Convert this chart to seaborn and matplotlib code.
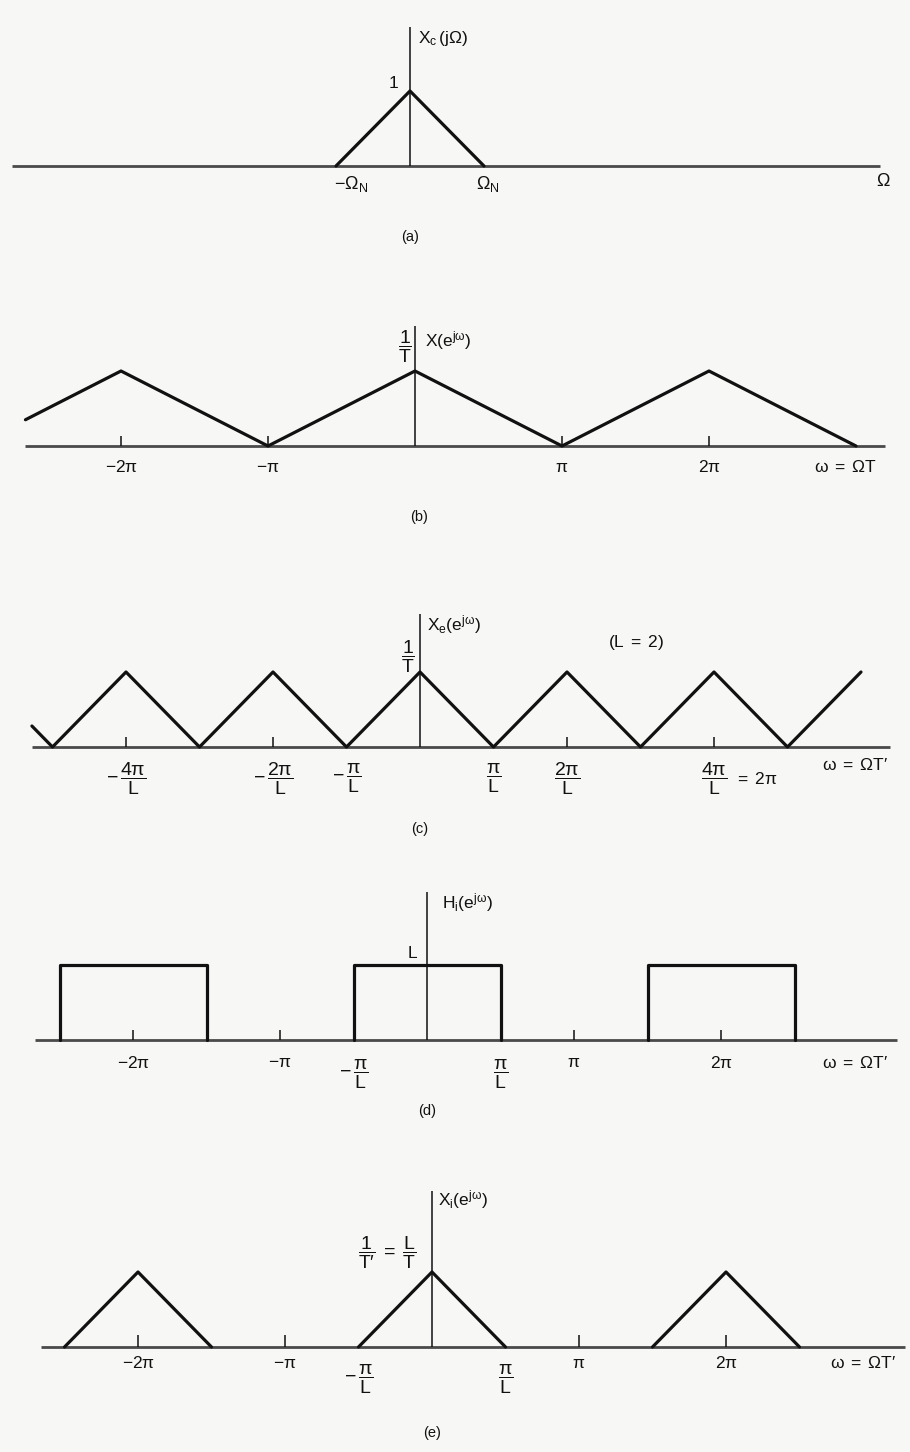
import matplotlib
matplotlib.use("Agg")
import matplotlib.pyplot as plt
import pandas as pd
import seaborn as sns

# ---- data (x in units of pi for b-e, units of Omega_N for a; y: 1 = peak) ----
a_omega = [-1.0, 0.0, 1.0]
a_mag = [0.0, 1.0, 0.0]

b_omega = [-2.65, -2.0, -1.0, 0.0, 1.0, 2.0, 3.0]
b_mag = [0.35, 1.0, 0.0, 1.0, 0.0, 1.0, 0.0]

c_omega = [-2.64, -2.5, -2.0, -1.5, -1.0, -0.5, 0.0, 0.5, 1.0, 1.5, 2.0, 2.5, 3.0]
c_mag = [0.28, 0.0, 1.0, 0.0, 1.0, 0.0, 1.0, 0.0, 1.0, 0.0, 1.0, 0.0, 1.0]

d_omega = [-2.5, -2.5, -1.5, -1.5, -0.5, -0.5, 0.5, 0.5, 1.5, 1.5, 2.5, 2.5]
d_mag = [0, 1, 1, 0, 0, 1, 1, 0, 0, 1, 1, 0]
d_band = [0, 0, 0, 0, 1, 1, 1, 1, 2, 2, 2, 2]

e_omega = [-2.5, -2.0, -1.5, -0.5, 0.0, 0.5, 1.5, 2.0, 2.5]
e_mag = [0, 1, 0, 0, 1, 0, 0, 1, 0]
e_copy = [0, 0, 0, 1, 1, 1, 2, 2, 2]

ticks = [-2.0, -1.0, 1.0, 2.0]
b_labels = [r"$-2\pi$", r"$-\pi$", r"$\pi$", r"$2\pi$"]
c_label_pos = [-2.0, -1.0, -0.5, 0.5, 1.0, 2.0]
c_labels = [r"$-\,\dfrac{4\pi}{L}$", r"$-\,\dfrac{2\pi}{L}$", r"$-\,\dfrac{\pi}{L}$",
            r"$\dfrac{\pi}{L}$", r"$\dfrac{2\pi}{L}$", r"$\dfrac{4\pi}{L}$"]
de_label_pos = [-2.0, -1.0, -0.5, 0.5, 1.0, 2.0]
de_labels = [r"$-2\pi$", r"$-\pi$", r"$-\,\dfrac{\pi}{L}$", r"$\dfrac{\pi}{L}$", r"$\pi$", r"$2\pi$"]

sns.set_theme(style="white")
plt.rcParams["font.family"] = ["Liberation Sans", "DejaVu Sans"]
plt.rcParams["mathtext.fontset"] = "custom"
plt.rcParams["mathtext.rm"] = "Liberation Sans"
plt.rcParams["mathtext.it"] = "Liberation Sans:italic"
plt.rcParams["mathtext.default"] = "regular"

W, H = 910, 1452
PI_PX = 147
UNIT_PX = 75
INK = "#111111"
LW = 2.3
FS = 12.5      # plain labels
FR = 14        # fraction labels

fig = plt.figure(figsize=(W / 100, H / 100), dpi=100)
fig.patch.set_facecolor("#f7f7f5")


def panel(base, center, xpx=PI_PX, above=190, below=110):
    ax = fig.add_axes([0, (H - base - below) / H, 1, (above + below) / H])
    ax.set_xlim(-center / xpx, (W - center) / xpx)
    ax.set_ylim(-below / UNIT_PX, above / UNIT_PX)
    ax.axis("off")
    ax.patch.set_visible(False)
    return ax


def frame(ax, x0, x1, top):
    ax.plot([x0, x1], [0, 0], color="#4a4a4a", lw=2.0, solid_capstyle="butt", zorder=1)
    ax.vlines(0, 0, top, color=INK, lw=1.1, zorder=2)


def txt(ax, x, y, s, size=FS, ha="center", va="center"):
    ax.text(x, y, s, fontsize=size, ha=ha, va=va, color=INK)


def curve(ax, x, y, units=None):
    df = pd.DataFrame({"w": x, "m": y, "u": units if units is not None else [0] * len(x)})
    sns.lineplot(data=df, x="w", y="m", units="u", estimator=None, sort=False,
                 color=INK, lw=LW, ax=ax, legend=False)
    ax.set_xlabel("")
    ax.set_ylabel("")


# (a)
ax = panel(166, 410, xpx=74)
frame(ax, -5.38, 6.35, 1.85)
curve(ax, a_omega, a_mag)
txt(ax, 0.11, 1.7, r"$X_c\,(j\Omega)$", ha="left")
txt(ax, -0.22, 1.1, "1")
txt(ax, -0.8, -0.24, r"$-\Omega_N$", size=13)
txt(ax, 1.05, -0.24, r"$\Omega_N$", size=13)
txt(ax, 6.4, -0.2, r"$\Omega$", size=13)
txt(ax, 0.0, -0.95, "(a)", size=10.5)
ax.set_axis_off()

# (b)
ax = panel(446, 415)
frame(ax, -2.65, 3.2, 1.6)
curve(ax, b_omega, b_mag)
ax.vlines(ticks, 0, 0.14, color=INK, lw=1.1)
for p, s in zip(ticks, b_labels):
    txt(ax, p, -0.28, s)
txt(ax, 0.07, 1.4, r"$X(e^{j\omega})$", ha="left")
txt(ax, -0.07, 1.32, r"$\dfrac{1}{T}$", size=FR)
txt(ax, 2.93, -0.28, r"$\omega\;=\;\Omega T$")
txt(ax, 0.03, -0.95, "(b)", size=10.5)
ax.set_axis_off()

# (c)
ax = panel(747, 420)
frame(ax, -2.64, 3.2, 1.78)
curve(ax, c_omega, c_mag)
ax.vlines(ticks, 0, 0.14, color=INK, lw=1.1)
for p, s in zip(c_label_pos, c_labels):
    txt(ax, p, -0.42, s, size=FR)
txt(ax, 2.14, -0.42, r"$=\;2\pi$", ha="left")
txt(ax, 0.05, 1.63, r"$X_e(e^{j\omega})$", ha="left")
txt(ax, -0.08, 1.2, r"$\dfrac{1}{T}$", size=FR)
txt(ax, 1.47, 1.4, r"$(L\;=\;2)$")
txt(ax, 2.96, -0.24, "$\\omega\\;=\\;\\Omega T\u2032$")
txt(ax, 0.0, -1.1, "(c)", size=10.5)
ax.set_axis_off()

# (d)
ax = panel(1040, 427)
frame(ax, -2.67, 3.2, 1.97)
curve(ax, d_omega, d_mag, d_band)
ax.vlines(ticks, 0, 0.14, color=INK, lw=1.1)
for p, s in zip(de_label_pos, de_labels):
    frac = "dfrac" in s
    txt(ax, p, -0.46 if frac else -0.3, s, size=FR if frac else FS)
txt(ax, 0.1, 1.83, r"$H_i(e^{j\omega})$", ha="left")
txt(ax, -0.1, 1.16, "L")
txt(ax, 2.91, -0.3, "$\\omega\\;=\\;\\Omega T\u2032$")
txt(ax, 0.0, -0.95, "(d)", size=10.5)
ax.set_axis_off()

# (e)
ax = panel(1347, 432)
frame(ax, -2.66, 3.22, 2.08)
curve(ax, e_omega, e_mag, e_copy)
ax.vlines(ticks, 0, 0.16, color=INK, lw=1.1)
for p, s in zip(de_label_pos, de_labels):
    frac = "dfrac" in s
    txt(ax, p, -0.43 if frac else -0.22, s, size=FR if frac else FS)
txt(ax, 0.04, 1.96, r"$X_i(e^{j\omega})$", ha="left")
txt(ax, -0.3, 1.26, "$\\dfrac{1}{T\u2032}\\;=\\;\\dfrac{L}{T}$", size=FR)
txt(ax, 2.93, -0.22, "$\\omega\\;=\\;\\Omega T\u2032$")
txt(ax, 0.0, -1.15, "(e)", size=10.5)
ax.set_axis_off()

fig.savefig("out.png", dpi=100, facecolor=fig.get_facecolor())
